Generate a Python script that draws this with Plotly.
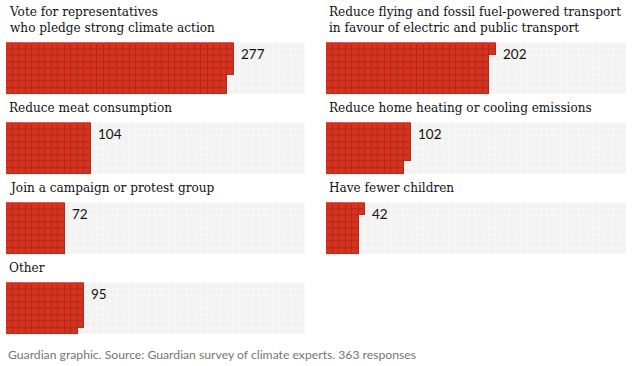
import plotly.graph_objects as go

# ---- data ----
categories = [
    "Vote for representatives<br>who pledge strong climate action",
    "Reduce flying and fossil fuel-powered transport<br>in favour of electric and public transport",
    "Reduce meat consumption",
    "Reduce home heating or cooling emissions",
    "Join a campaign or protest group",
    "Have fewer children",
    "Other",
]
counts = [277, 202, 104, 102, 72, 42, 95]
total_responses = 363
footer = "Guardian graphic. Source: Guardian survey of climate experts. 363 responses"

# ---- layout constants ----
W, H = 635, 366
ROWS, COLS = 8, 46
col_x = [(6, 305), (326, 626)]
row_top = [42.3, 122.3, 202.3, 282.3]
grid_h = 52

RED = "#d5321f"
RED_LINE = "#b02a1c"
GREY = "#f2f2f2"
GREY_LINE = "#f8f8f8"

fig = go.Figure()

def py(y):
    return 1 - y / H

for i, (cat, n) in enumerate(zip(categories, counts)):
    c, r = i % 2, i // 2
    ax = i + 1
    xa = "x" if ax == 1 else f"x{ax}"
    ya = "y" if ax == 1 else f"y{ax}"
    z = []
    for row in range(ROWS):
        z.append([1 if col * ROWS + row < n else 0 for col in range(COLS)])
    xs = list(range(COLS))
    ys = list(range(ROWS))
    fig.add_trace(go.Heatmap(z=z, x=xs, y=ys, xaxis=xa, yaxis=ya,
                             zmin=0, zmax=1, showscale=False, hoverinfo="skip",
                             colorscale=[[0, GREY_LINE], [0.5, GREY_LINE], [0.5, RED_LINE], [1, RED_LINE]]))
    fig.add_trace(go.Heatmap(z=z, x=xs, y=ys, xaxis=xa, yaxis=ya, xgap=1, ygap=1,
                             zmin=0, zmax=1, showscale=False, hoverinfo="skip",
                             colorscale=[[0, GREY], [0.5, GREY], [0.5, RED], [1, RED]]))
    x0, x1 = col_x[c]
    top = row_top[r]
    fig.update_layout(**{
        ("xaxis" if ax == 1 else f"xaxis{ax}"): dict(
            domain=[x0 / W, x1 / W], range=[-0.5, COLS - 0.5], visible=False,
            fixedrange=True, anchor=ya),
        ("yaxis" if ax == 1 else f"yaxis{ax}"): dict(
            domain=[py(top + grid_h), py(top)], range=[ROWS - 0.5, -0.5], visible=False,
            fixedrange=True, anchor=xa),
    })
    ncols = -(-n // ROWS)
    fig.add_annotation(x=ncols - 0.5, y=1.25, xref=xa, yref=ya, text=str(n),
                       showarrow=False, xanchor="left", yanchor="middle", xshift=5,
                       font=dict(family="Lato", size=13.5, color="#121212"))
    two_line = "<br>" in cat
    cy = 20 if two_line else top - 14
    fig.add_annotation(x=(x0 + 0.5) / W, y=py(cy), xref="paper", yref="paper", text=cat,
                       showarrow=False, xanchor="left", yanchor="middle", align="left",
                       font=dict(family="DejaVu Serif", size=12.1, color="#121212"))

fig.add_annotation(x=6 / W, y=py(354), xref="paper", yref="paper", text=footer,
                   showarrow=False, xanchor="left", yanchor="middle",
                   font=dict(family="Lato", size=12.2, color="#767676"))

fig.update_layout(width=W, height=H, margin=dict(l=0, r=0, t=0, b=0),
                  paper_bgcolor="white", plot_bgcolor="white", showlegend=False)

fig.write_html("out.html", config={"displayModeBar": False},
               post_script="document.body.style.margin='0';document.body.style.padding='0';")
